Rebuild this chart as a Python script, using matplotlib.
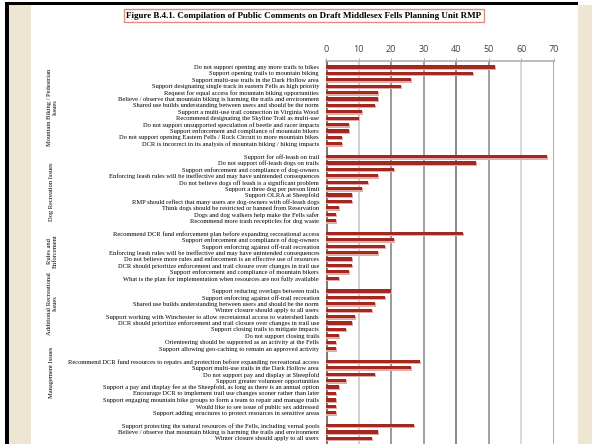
import matplotlib.pyplot as plt
from matplotlib.patches import Rectangle
from matplotlib.transforms import blended_transform_factory

# --- data ---
group_names = [
    "Mountain Biking / Pedestrian\nIssues",
    "Dog Recreation Issues",
    "Rules and\nEnforcement",
    "Additional Recreational\nIssues",
    "Management Issues",
    "Natural Resource\nProtection",
]

mtb_labels = [
    "Do not support opening any more trails to bikes",
    "Support opening trails to mountain biking",
    "Support multi-use trails in the Dark Hollow area",
    "Support designating single track in eastern Fells as high priority",
    "Request for equal access for mountain biking opportunities",
    "Believe / observe that mountain biking is harming the trails and environment",
    "Shared use builds understanding between users and should be the norm",
    "Support a multi-use trail connection in Virginia Wood",
    "Recommend designating the Skyline Trail as multi-use",
    "Do not support unsupported speculation of beetle and racer impacts",
    "Support enforcement and compliance of mountain bikers",
    "Do not support opening Eastern Fells / Rock Circuit to more mountain bikes",
    "DCR is incorrect in its analysis of mountain biking / hiking impacts",
]
mtb_values = [52, 45, 26, 23, 16, 16, 15, 11, 10, 7, 7, 5, 5]

dog_labels = [
    "Support for off-leash on trail",
    "Do not support off-leash dogs on trails",
    "Support enforcement and compliance of dog-owners",
    "Enforcing leash rules will be ineffective and may have unintended consequences",
    "Do not believe dogs off leash is a significant problem",
    "Support a three dog per person limit",
    "Support OLRA at Sheepfold",
    "RMP should reflect that many users are dog-owners with off-leash dogs",
    "Think dogs should be restricted or banned from Reservation",
    "Dogs and dog walkers help make the Fells safer",
    "Recommend more trash recepticles for dog waste",
]
dog_values = [68, 46, 21, 16, 13, 11, 8, 8, 4, 3, 3]

rules_labels = [
    "Recommend DCR fund enforcement plan before expanding recreational access",
    "Support enforcement and compliance of dog-owners",
    "Support enforcing against off-trail recreation",
    "Enforcing leash rules will be ineffective and may have unintended consequences",
    "Do not believe more rules and enforcement is an effective use of resources",
    "DCR should prioritize enforcement and trail closure over changes in trail use",
    "Support enforcement and compliance of mountain bikers",
    "What is the plan for implementation when resources are not fully available",
]
rules_values = [42, 21, 18, 16, 8, 8, 7, 4]

addl_labels = [
    "Support reducing overlaps between trails",
    "Support enforcing against off-trail recreation",
    "Shared use builds understanding between users and should be the norm",
    "Winter closure should apply to all users",
    "Support working with Winchester to allow recretaional access to watershed lands",
    "DCR should prioritize enforcement and trail closure over changes in trail use",
    "Support closing trails to mitigate impacts",
    "Do not support closing trails",
    "Orienteering should be supported as an activity at the Fells",
    "Support allowing geo-caching to remain an approved activity",
]
addl_values = [20, 18, 15, 14, 9, 8, 6, 4, 3, 3]

mgmt_labels = [
    "Recommend DCR fund resources to repairs and protection before expanding recreational access",
    "Support multi-use trails in the Dark Hollow area",
    "Do not support pay and display at Sheepfold",
    "Support greater volunteer opportunities",
    "Support a pay and display fee at the Sheepfold, as long as there is an annual option",
    "Encourage DCR to implement trail use changes sooner rather than later",
    "Support engaging mountain bike groups to form a team to repair and manage trails",
    "Would like to see issue of public sex addressed",
    "Support adding structures to protect resources in sensitive areas",
]
mgmt_values = [29, 26, 15, 6, 4, 3, 3, 3, 3]

nat_labels = [
    "Support protecting the natural resources of the Fells, including vernal pools",
    "Believe / observe that mountain biking is harming the trails and environment",
    "Winter closure should apply to all users",
]
nat_values = [27, 16, 14]

groups = [
    (mtb_labels, mtb_values),
    (dog_labels, dog_values),
    (rules_labels, rules_values),
    (addl_labels, addl_values),
    (mgmt_labels, mgmt_values),
    (nat_labels, nat_values),
]
# where each group's side label sits (row units)
group_label_rows = [6.25, 19.5, 28.75, 36.9, 47.7, 63]

x_ticks = [0, 10, 20, 30, 40, 50, 60, 70]

# --- layout ---
W, H = 592, 444
fig = plt.figure(figsize=(W / 100, H / 100), dpi=100)
fig.patch.set_facecolor("white")

# scanned page decoration
fig.add_artist(Rectangle((9 / W, 0), 22 / W, 1 - 5 / H, transform=fig.transFigure,
                         facecolor="#efe5d3", edgecolor="none"))
fig.add_artist(Rectangle((578 / W, 0), 14 / W, 1 - 5 / H, transform=fig.transFigure,
                         facecolor="#efe5d3", edgecolor="none"))
fig.add_artist(Rectangle((5 / W, 0), 4 / W, 1 - 2 / H, transform=fig.transFigure,
                         facecolor="black", edgecolor="none"))
fig.add_artist(Rectangle((5 / W, 1 - 5 / H), 573 / W, 3 / H, transform=fig.transFigure,
                         facecolor="black", edgecolor="none"))

fig.text(304 / W, 1 - 15.5 / H,
         "Figure B.4.1. Compilation of Public Comments on Draft Middlesex Fells Planning Unit RMP",
         ha="center", va="center", fontsize=6.5, fontweight="bold", family="Liberation Serif",
         bbox=dict(boxstyle="square,pad=0.3", facecolor="white", edgecolor="#e0907a", lw=1))

ax = fig.add_axes([326 / W, 0, 228 / W, (H - 61) / H])

rows, labels, values = [], [], []
r = 0
for lab, val in groups:
    for l, v in zip(lab, val):
        rows.append(r)
        labels.append(l)
        values.append(v)
        r += 1
    r += 1  # blank row between groups

grid_colors = ["#7a7a7a", "#cfcfcf", "#9a9a9a", "#a0a0a0", "#8a8a8a", "#a0a0a0", "#d8d8d8", "#ababab"]
for xv, c in zip(x_ticks, grid_colors):
    ax.axvline(xv, color=c, lw=2.2 if xv == 0 else 1.4, zorder=0)

# pale shadow under each bar, then the bar itself
ax.barh([y + 0.18 for y in rows], [v + 0.3 for v in values], height=0.55,
        color="#e3aaa6", zorder=2)
ax.barh(rows, values, height=0.52, color="#a3281f", zorder=3)

ax.set_xlim(0, 70)
ax.set_ylim(58.9, -0.94)
ax.set_yticks(rows, labels)
ax.tick_params(axis="y", length=0, pad=5, labelsize=4.65)
for t in ax.get_yticklabels():
    t.set_family("Liberation Serif")
ax.xaxis.tick_top()
ax.set_xticks(x_ticks)
ax.tick_params(axis="x", length=2, width=0.6, color="#999999", pad=3,
               labelsize=6.5, labelcolor="#444444")
for t in ax.get_xticklabels():
    t.set_family("Open Sans")

for s in ["left", "right", "bottom"]:
    ax.spines[s].set_visible(False)
ax.spines["top"].set_color("#b0b0b0")
ax.spines["top"].set_linewidth(1.2)

side = blended_transform_factory(fig.transFigure, ax.transData)
for name, yr in zip(group_names, group_label_rows):
    ax.text(52 / W, yr, name, transform=side, rotation=90,
            ha="center", va="center", fontsize=4.7, family="Liberation Serif",
            multialignment="center", clip_on=False)

fig.savefig("out.png", dpi=100)
